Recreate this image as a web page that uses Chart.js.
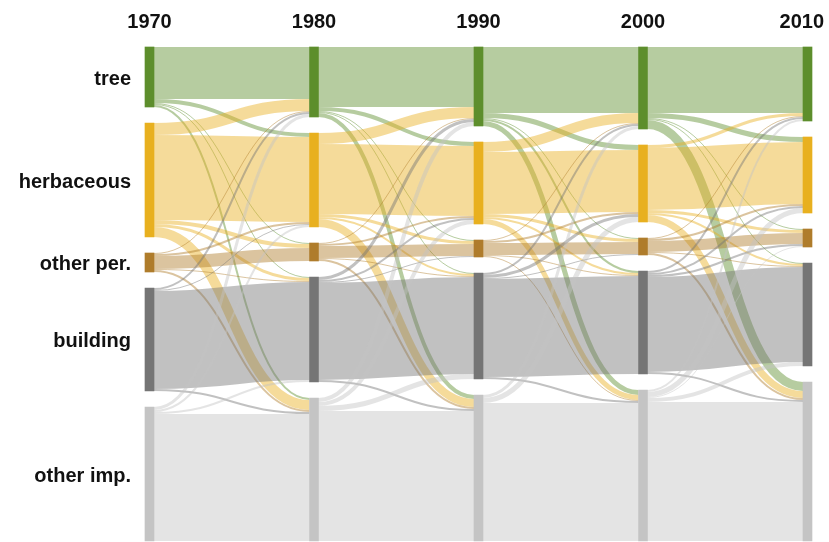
<!DOCTYPE html>
<html>
<head>
<meta charset="utf-8">
<title>Land cover flows 1970-2010</title>
<script src="https://cdn.jsdelivr.net/npm/chart.js@4.4.1/dist/chart.umd.min.js"></script>
<style>
  html, body { margin: 0; padding: 0; background: #fff; }
  canvas { display: block; }
</style>
</head>
<body>
<canvas id="landChart" width="829" height="542"></canvas>
<script>
const years = [1970, 1980, 1990, 2000, 2010];
const classes = ["tree", "herbaceous", "other per.", "building", "other imp."];
const classColors = ["#5d8e2c", "#e8b01f", "#af7c2b", "#757575", "#c4c4c4"];

// rows = from class, columns = to class (same order as classes)
const flows1970to1980 = [
  [52, 4, 1, 1, 2],
  [12, 85, 4, 3, 10],
  [1, 2, 13, 1, 2],
  [2, 1, 0, 98, 2],
  [3, 2, 0, 2, 127]
];
const flows1980to1990 = [
  [60, 4, 1, 1, 4],
  [11, 70, 3, 2, 8],
  [1, 2, 12, 1, 2],
  [3, 2, 1, 97, 2],
  [4, 4, 0, 5, 130]
];
const flows1990to2000 = [
  [66, 5, 1, 2, 5],
  [10, 62, 3, 2, 5],
  [1, 2, 12, 1, 1],
  [2, 3, 1, 98, 2],
  [3, 5, 0, 0, 138]
];
const flows2000to2010 = [
  [66, 5, 1, 1, 9],
  [3, 62, 3, 2, 7],
  [1, 2, 11, 1, 2],
  [2, 2, 2, 95, 2],
  [2, 5, 1, 4, 139]
];

const periods = [flows1970to1980, flows1980to1990, flows1990to2000, flows2000to2010];
const nodeGap = 16;
const barWidth = 9;

// node sizes: outflows for each year, inflows for the last one
let nodeSizes = periods.map(m => m.map(row => row.reduce((a, b) => a + b, 0)));
let last = periods[periods.length - 1];
nodeSizes.push(classes.map((c, j) => last.reduce((a, row) => a + row[j], 0)));

// stack the nodes top to bottom
let layout = nodeSizes.map(sizes => {
  let y = 0;
  return sizes.map(s => {
    let node = { y0: y, y1: y + s };
    y += s + nodeGap;
    return node;
  });
});
let totalHeight = layout[0][classes.length - 1].y1;

function withAlpha(hex, a) {
  let n = parseInt(hex.slice(1), 16);
  return `rgba(${(n >> 16) & 255},${(n >> 8) & 255},${n & 255},${a})`;
}

const flowPlugin = {
  id: "flows",
  beforeDatasetsDraw(chart) {
    const ctx = chart.ctx;
    const xs = chart.scales.x;
    const ys = chart.scales.y;
    const thick = v => Math.abs(ys.getPixelForValue(v) - ys.getPixelForValue(0));
    ctx.save();
    periods.forEach((m, k) => {
      let x0 = xs.getPixelForValue(years[k]) + barWidth / 2;
      let x1 = xs.getPixelForValue(years[k + 1]) - barWidth / 2;
      let xm = (x0 + x1) / 2;
      let outOff = layout[k].map(n => n.y0);
      let inOff = layout[k + 1].map(n => n.y0);
      let startY = m.map(() => []);
      let endY = m.map(() => []);
      for (let i = 0; i < m.length; i++) {
        for (let j = 0; j < m[i].length; j++) {
          startY[i][j] = outOff[i] + m[i][j] / 2;
          outOff[i] += m[i][j];
        }
      }
      for (let j = 0; j < m.length; j++) {
        for (let i = 0; i < m.length; i++) {
          endY[i][j] = inOff[j] + m[i][j] / 2;
          inOff[j] += m[i][j];
        }
      }
      for (let i = 0; i < m.length; i++) {
        for (let j = 0; j < m[i].length; j++) {
          if (!m[i][j]) continue;
          let ya = ys.getPixelForValue(startY[i][j]);
          let yb = ys.getPixelForValue(endY[i][j]);
          ctx.beginPath();
          ctx.moveTo(x0, ya);
          ctx.bezierCurveTo(xm, ya, xm, yb, x1, yb);
          ctx.lineWidth = thick(m[i][j]);
          ctx.strokeStyle = withAlpha(classColors[i], 0.45);
          ctx.stroke();
        }
      }
    });
    ctx.restore();
  }
};

const labelPlugin = {
  id: "labels",
  afterDraw(chart) {
    const ctx = chart.ctx;
    const xs = chart.scales.x;
    const ys = chart.scales.y;
    ctx.save();
    ctx.font = "bold 20px Arial, 'Liberation Sans', sans-serif";
    ctx.fillStyle = "#111";
    ctx.textBaseline = "middle";
    ctx.textAlign = "center";
    years.forEach(yr => {
      let x = xs.getPixelForValue(yr);
      let w = ctx.measureText(String(yr)).width;
      x = Math.min(x, chart.width - w / 2 - 5);
      ctx.fillText(String(yr), x, 22);
    });
    ctx.textAlign = "right";
    let lx = xs.getPixelForValue(years[0]) - barWidth / 2 - 14;
    classes.forEach((c, i) => {
      let n = layout[0][i];
      ctx.fillText(c, lx, ys.getPixelForValue((n.y0 + n.y1) / 2) + 2);
    });
    ctx.restore();
  }
};

new Chart("landChart", {
  type: "bar",
  data: {
    datasets: classes.map((c, i) => ({
      label: c,
      data: years.map((yr, k) => ({ x: yr, y: [layout[k][i].y0, layout[k][i].y1] })),
      backgroundColor: classColors[i],
      borderWidth: 0,
      barThickness: barWidth,
      grouped: false,
      clip: false
    }))
  },
  options: {
    responsive: false,
    animation: false,
    devicePixelRatio: 1,
    layout: { padding: { left: 149.5, right: 21.5, top: 47, bottom: 1 } },
    scales: {
      x: { type: "linear", min: 1970, max: 2010, offset: false, display: false },
      y: { type: "linear", min: 0, max: totalHeight, reverse: true, display: false }
    },
    plugins: {
      legend: { display: false },
      tooltip: { enabled: false }
    }
  },
  plugins: [flowPlugin, labelPlugin]
});
</script>
</body>
</html>
